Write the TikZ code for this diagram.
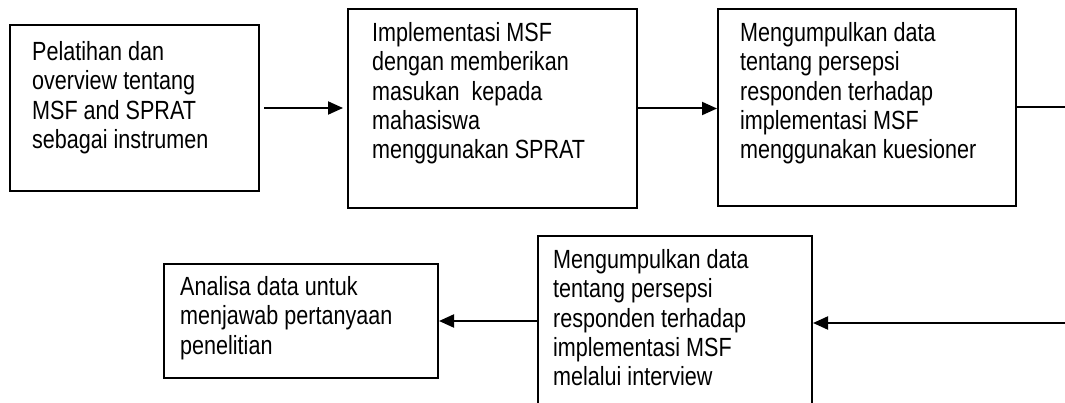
\documentclass[tikz,border=0pt]{standalone}
\usepackage{fontspec}
\setmainfont{Liberation Sans}[FakeStretch=0.82]
\usetikzlibrary{arrows.meta}

\tikzset{
  stepbox/.style={draw, line width=2pt, inner sep=0pt, anchor=north west},
  steptext/.style={anchor=north west, align=left, inner sep=0pt,
    font=\fontsize{26.3}{29.4}\selectfont},
  flow/.style={line width=2pt, -{Triangle[length=15pt,width=13pt]}},
  plainflow/.style={line width=2pt}
}

\begin{document}
\begin{tikzpicture}[x=1pt,y=-1pt]
\useasboundingbox (0,0) rectangle (1065,403);
\clip (0,0) rectangle (1065,403);

% top row
\node[stepbox, minimum width=249pt, minimum height=166pt] (latih) at (9,24) {};
\node[stepbox, minimum width=289pt, minimum height=199pt] (impl) at (347,8) {};
\node[stepbox, minimum width=298pt, minimum height=197pt] (angket) at (717,8) {};
\node[steptext] at (32,41) {Pelatihan dan\\overview tentang\\MSF and SPRAT\\sebagai instrumen};
\node[steptext] at (372,22) {Implementasi MSF\\dengan memberikan\\masukan\ \ kepada\\mahasiswa\\menggunakan SPRAT};
\node[steptext] at (740,22) {Mengumpulkan data\\tentang persepsi\\responden terhadap\\implementasi MSF\\menggunakan kuesioner};

% bottom row
\node[stepbox, minimum width=274pt, minimum height=114pt] (analisa) at (163,263) {};
\node[stepbox, minimum width=274pt, minimum height=200pt] (wawancara) at (537,235) {};
\node[steptext] at (180,276) {Analisa data untuk\\menjawab pertanyaan\\penelitian};
\node[steptext] at (553,249) {Mengumpulkan data\\tentang persepsi\\responden terhadap\\implementasi MSF\\melalui interview};

% connectors
\coordinate (kanan1) at (1075,108);
\coordinate (kanan2) at (1075,323);
\draw[flow] ([xshift=4pt]latih.east) -- ([xshift=-4pt]latih.east -| impl.west);
\draw[flow] (impl.east) -- (impl.east -| angket.west);
\draw[plainflow] (angket.east) -- (angket.east -| kanan1);
\draw[flow] (kanan2) -- (kanan2 -| wawancara.east);
\draw[flow] (analisa.east -| wawancara.west) -- (analisa.east);
\end{tikzpicture}
\end{document}
